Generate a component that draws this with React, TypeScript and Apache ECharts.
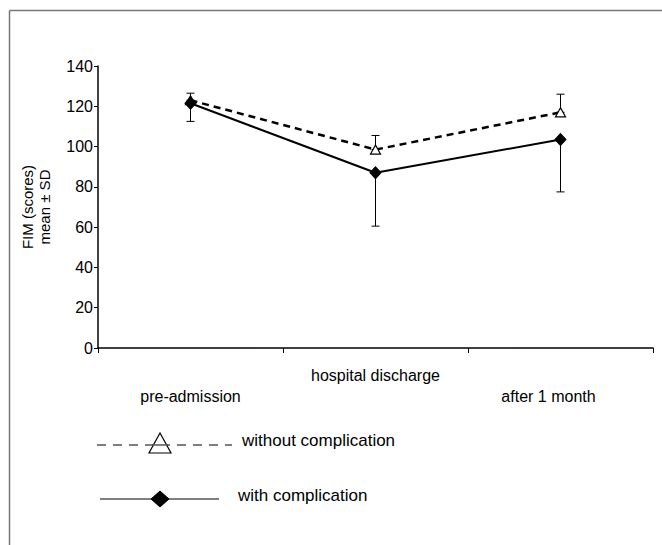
import React, { useEffect, useRef } from "react";
import * as echarts from "echarts";

const categories = ["pre-admission", "hospital discharge", "after 1 month"];
const withoutMean = [123, 98.5, 117];
const withoutSD = [3.5, 7, 9];
const withMean = [121.5, 87, 103.5];
const withSD = [9, 26.5, 26];
const seriesNames = ["without complication", "with complication"];
const yAxisTitle = "FIM (scores)\nmean ± SD";

const FONT = "'Liberation Sans', Arial, sans-serif";

export default function App() {
  const ref = useRef<HTMLDivElement>(null);
  useEffect(() => {
    if (!ref.current) return;
    const chart = echarts.init(ref.current, null, { renderer: "svg" });

    // error bar data: [index, low, high]
    const withoutErr = withoutMean.map((m, i) => [i, m, m + withoutSD[i]]);
    const withErr = withMean.map((m, i) => [i, m - withSD[i], m]);

    const renderErr = (params: any, api: any) => {
      const idx = api.value(0);
      const lo = api.coord([idx, api.value(1)]);
      const hi = api.coord([idx, api.value(2)]);
      const x = lo[0];
      const cap = 4;
      const style = { stroke: "#000", lineWidth: 1 };
      return {
        type: "group",
        children: [
          { type: "line", shape: { x1: x, y1: lo[1], x2: x, y2: hi[1] }, style },
          { type: "line", shape: { x1: x - cap, y1: lo[1], x2: x + cap, y2: lo[1] }, style },
          { type: "line", shape: { x1: x - cap, y1: hi[1], x2: x + cap, y2: hi[1] }, style },
        ],
      };
    };

    const option: any = {
      animation: false,
      backgroundColor: "#fff",
      textStyle: { fontFamily: FONT },
      grid: { left: 98, right: 9, top: 66, bottom: 197, containLabel: false },
      xAxis: {
        type: "category",
        data: categories,
        boundaryGap: true,
        axisLine: { lineStyle: { color: "#000", width: 1.5 } },
        axisTick: { show: true, length: 5, lineStyle: { color: "#000" } },
        axisLabel: {
          color: "#000",
          fontSize: 16,
          fontFamily: FONT,
          margin: 17,
          lineHeight: 21,
          interval: 0,
          formatter: (v: string, i: number) =>
            i === 1 ? v : i === 2 ? "\n{c|" + v + "}" : "\n" + v,
          rich: {
            c: { fontSize: 16, fontFamily: FONT, color: "#000", padding: [0, 24, 0, 0], lineHeight: 21 },
          },
        },
        splitLine: { show: false },
      },
      yAxis: {
        type: "value",
        min: 0,
        max: 140,
        interval: 20,
        name: yAxisTitle,
        nameLocation: "middle",
        nameGap: 45,
        nameTextStyle: { color: "#000", fontSize: 15, fontFamily: FONT, lineHeight: 17 },
        axisLine: { show: true, lineStyle: { color: "#000", width: 1.5 } },
        axisTick: { show: true, length: 4, lineStyle: { color: "#000" } },
        axisLabel: { color: "#000", fontSize: 16, fontFamily: FONT, margin: 5 },
        splitLine: { show: false },
      },
      series: [
        {
          type: "custom",
          name: seriesNames[0] + " SD",
          renderItem: renderErr,
          data: withoutErr,
          encode: { x: 0, y: [1, 2] },
          z: 1,
          silent: true,
        },
        {
          type: "custom",
          name: seriesNames[1] + " SD",
          renderItem: renderErr,
          data: withErr,
          encode: { x: 0, y: [1, 2] },
          z: 1,
          silent: true,
        },
        {
          type: "line",
          name: seriesNames[0],
          data: withoutMean,
          symbol: "triangle",
          symbolSize: [10, 9],
          showAllSymbol: true,
          lineStyle: { color: "#000", width: 2.5, type: [7, 5] },
          itemStyle: { color: "#fff", borderColor: "#000", borderWidth: 1.2 },
          z: 2,
        },
        {
          type: "line",
          name: seriesNames[1],
          data: withMean,
          symbol: "diamond",
          symbolSize: [11, 12],
          showAllSymbol: true,
          lineStyle: { color: "#000", width: 2 },
          itemStyle: { color: "#000", borderColor: "#000" },
          z: 3,
        },
      ],
      graphic: [
        // frame lines
        { type: "line", shape: { x1: 9.5, y1: 10.5, x2: 662, y2: 10.5 }, style: { stroke: "#777", lineWidth: 1.5 } },
        { type: "line", shape: { x1: 9.5, y1: 10.5, x2: 9.5, y2: 545 }, style: { stroke: "#777", lineWidth: 1.5 } },
        // legend: without complication
        { type: "line", shape: { x1: 97, y1: 445, x2: 232, y2: 445 }, style: { stroke: "#555", lineWidth: 1.5, lineDash: [9, 7] } },
        { type: "polygon", shape: { points: [[160, 433], [171, 453], [149, 453]] }, style: { fill: "#fff", stroke: "#000", lineWidth: 1.2 } },
        { type: "line", shape: { x1: 152, y1: 445, x2: 168, y2: 445 }, style: { stroke: "#555", lineWidth: 1.5 } },
        { type: "text", left: 242, top: 432, style: { text: seriesNames[0], fontSize: 17, fontFamily: FONT, fill: "#000" } },
        // legend: with complication
        { type: "line", shape: { x1: 100, y1: 499, x2: 219, y2: 499 }, style: { stroke: "#000", lineWidth: 1.2 } },
        { type: "polygon", shape: { points: [[160, 491], [169, 499], [160, 507], [151, 499]] }, style: { fill: "#000", stroke: "#000" } },
        { type: "text", left: 238, top: 487, style: { text: seriesNames[1], fontSize: 17, fontFamily: FONT, fill: "#000" } },
      ],
    };
    chart.setOption(option);
    return () => chart.dispose();
  }, []);
  return (
    <div
      ref={ref}
      style={{ position: "fixed", left: 0, top: 0, width: 662, height: 545 }}
    />
  );
}
